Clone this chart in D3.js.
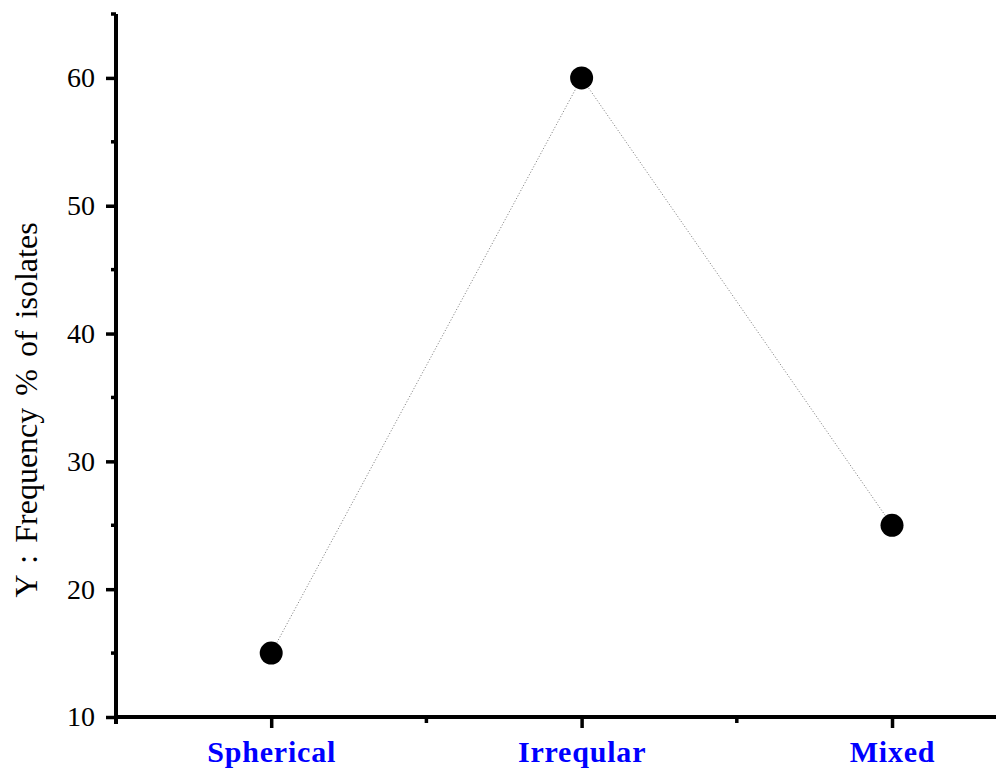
<!DOCTYPE html>
<html>
<head>
<meta charset="utf-8">
<script src="https://cdn.jsdelivr.net/npm/d3@7"></script>
<style>
  body { margin: 0; background: #fff; }
  svg { display: block; }
</style>
</head>
<body>
<svg id="chart" width="996" height="773"></svg>
<script>
const categories = ["Spherical", "Irreqular", "Mixed"];
const frequency = [15, 60, 25];
const yTicks = [10, 20, 30, 40, 50, 60];
const yMinorTicks = [15, 25, 35, 45, 55, 65];

const svg = d3.select("#chart");
const plotLeft = 116, plotRight = 996, plotTop = 14, plotBottom = 717;

const x = d3.scaleLinear().domain([0.5, 3.335]).range([plotLeft, plotRight]);
const y = d3.scaleLinear().domain([10, 65]).range([plotBottom, plotTop]);

const font = "'Liberation Serif', 'Times New Roman', serif";

// y axis
const yAxis = svg.append("g").attr("transform", `translate(${plotLeft},0)`);
yAxis.call(d3.axisLeft(y).tickValues(yTicks).tickSize(10).tickSizeOuter(0))
    .call(g => g.select(".domain").remove());
yAxis.selectAll(".tick line").attr("stroke", "#000").attr("stroke-width", 3.5);
yAxis.selectAll(".tick text")
    .attr("font-family", font).attr("font-size", 28).attr("fill", "#000")
    .attr("x", -21);
yAxis.selectAll(".minor").data(yMinorTicks).enter().append("line")
    .attr("x1", -5).attr("x2", 0)
    .attr("y1", d => y(d)).attr("y2", d => y(d))
    .attr("stroke", "#000").attr("stroke-width", 3.5);
yAxis.append("line")
    .attr("x1", 0).attr("x2", 0).attr("y1", plotTop).attr("y2", plotBottom + 7)
    .attr("stroke", "#000").attr("stroke-width", 4);

// x axis
const xAxis = svg.append("g").attr("transform", `translate(0,${plotBottom})`);
xAxis.call(d3.axisBottom(x).tickValues([1, 2, 3]).tickSize(11).tickFormat((d, i) => categories[i]))
    .call(g => g.select(".domain").remove());
xAxis.selectAll(".tick line").attr("stroke", "#000").attr("stroke-width", 3.5);
xAxis.selectAll(".tick text")
    .attr("font-family", font).attr("font-size", 30).attr("font-weight", "bold")
    .attr("letter-spacing", 0.8)
    .attr("fill", "#0000ff").attr("y", 45).attr("dy", 0);
xAxis.selectAll(".minor").data([1.5, 2.5]).enter().append("line")
    .attr("x1", d => x(d)).attr("x2", d => x(d))
    .attr("y1", 0).attr("y2", 6)
    .attr("stroke", "#000").attr("stroke-width", 3.5);
xAxis.append("line")
    .attr("x1", plotLeft - 2).attr("x2", plotRight).attr("y1", 0).attr("y2", 0)
    .attr("stroke", "#000").attr("stroke-width", 4);

// y label
svg.append("text")
    .attr("transform", "translate(37,410) rotate(-90)")
    .attr("text-anchor", "middle")
    .attr("font-family", font).attr("font-size", 32)
    .attr("word-spacing", 4)
    .text("Y : Frequency % of isolates");

// line + points
const line = d3.line().x((d, i) => x(i + 1)).y(d => y(d));
svg.append("path")
    .datum(frequency)
    .attr("d", line)
    .attr("fill", "none")
    .attr("stroke", "#777")
    .attr("stroke-width", 1)
    .attr("stroke-dasharray", "1,2");

svg.selectAll(".pt").data(frequency).enter().append("circle")
    .attr("cx", (d, i) => x(i + 1))
    .attr("cy", d => y(d))
    .attr("r", 11.5)
    .attr("fill", "#000");
</script>
</body>
</html>
